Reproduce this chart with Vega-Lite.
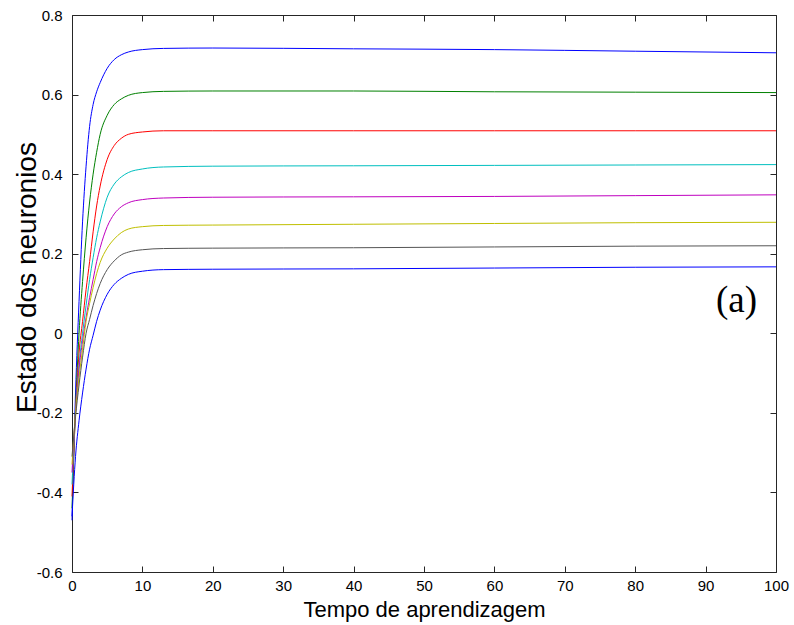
{
  "$schema": "https://vega.github.io/schema/vega-lite/v6.json",
  "width": 704,
  "height": 557,
  "autosize": {"type": "none"},
  "padding": {"left": 72, "top": 15, "right": 18, "bottom": 53},
  "background": "white",
  "config": {
    "view": {"stroke": null},
    "axis": {
      "labelFont": "Liberation Sans",
      "titleFont": "Liberation Sans",
      "labelColor": "#000000",
      "titleColor": "#000000",
      "labelFontSize": 15,
      "titleFontWeight": "normal",
      "labelFlush": false,
      "grid": false,
      "domainColor": "#262626",
      "tickColor": "#262626",
      "domainWidth": 1,
      "tickWidth": 1
    }
  },
  "datasets": {
    "curves": [
      {"n": "1", "t": 0, "y": -0.47}, {"n": "1", "t": 0.5, "y": -0.15}, {"n": "1", "t": 1, "y": 0.08}, {"n": "1", "t": 1.5, "y": 0.28}, {"n": "1", "t": 2, "y": 0.42}, {"n": "1", "t": 2.5, "y": 0.52}, {"n": "1", "t": 3, "y": 0.575}, {"n": "1", "t": 3.5, "y": 0.607}, {"n": "1", "t": 4, "y": 0.63}, {"n": "1", "t": 5, "y": 0.666}, {"n": "1", "t": 6, "y": 0.688}, {"n": "1", "t": 7, "y": 0.7}, {"n": "1", "t": 8, "y": 0.707}, {"n": "1", "t": 10, "y": 0.713}, {"n": "1", "t": 13, "y": 0.716}, {"n": "1", "t": 20, "y": 0.717}, {"n": "1", "t": 40, "y": 0.715}, {"n": "1", "t": 60, "y": 0.713}, {"n": "1", "t": 80, "y": 0.709}, {"n": "1", "t": 100, "y": 0.705},
      {"n": "2", "t": 0, "y": -0.44}, {"n": "2", "t": 0.5, "y": -0.19}, {"n": "2", "t": 1, "y": 0.0}, {"n": "2", "t": 1.5, "y": 0.13}, {"n": "2", "t": 2, "y": 0.24}, {"n": "2", "t": 2.5, "y": 0.33}, {"n": "2", "t": 3, "y": 0.4}, {"n": "2", "t": 3.5, "y": 0.455}, {"n": "2", "t": 4, "y": 0.5}, {"n": "2", "t": 5, "y": 0.548}, {"n": "2", "t": 6, "y": 0.575}, {"n": "2", "t": 7, "y": 0.589}, {"n": "2", "t": 8, "y": 0.598}, {"n": "2", "t": 10, "y": 0.605}, {"n": "2", "t": 13, "y": 0.608}, {"n": "2", "t": 20, "y": 0.609}, {"n": "2", "t": 40, "y": 0.609}, {"n": "2", "t": 60, "y": 0.607}, {"n": "2", "t": 80, "y": 0.606}, {"n": "2", "t": 100, "y": 0.605},
      {"n": "3", "t": 0, "y": -0.41}, {"n": "3", "t": 0.5, "y": -0.2}, {"n": "3", "t": 1, "y": -0.05}, {"n": "3", "t": 1.5, "y": 0.03}, {"n": "3", "t": 2, "y": 0.11}, {"n": "3", "t": 2.5, "y": 0.18}, {"n": "3", "t": 3, "y": 0.255}, {"n": "3", "t": 3.5, "y": 0.32}, {"n": "3", "t": 4, "y": 0.37}, {"n": "3", "t": 5, "y": 0.437}, {"n": "3", "t": 6, "y": 0.472}, {"n": "3", "t": 7, "y": 0.49}, {"n": "3", "t": 8, "y": 0.5}, {"n": "3", "t": 10, "y": 0.506}, {"n": "3", "t": 13, "y": 0.509}, {"n": "3", "t": 20, "y": 0.509}, {"n": "3", "t": 40, "y": 0.509}, {"n": "3", "t": 60, "y": 0.509}, {"n": "3", "t": 80, "y": 0.509}, {"n": "3", "t": 100, "y": 0.509},
      {"n": "4", "t": 0, "y": -0.38}, {"n": "4", "t": 0.5, "y": -0.2}, {"n": "4", "t": 1, "y": -0.08}, {"n": "4", "t": 1.5, "y": 0.0}, {"n": "4", "t": 2, "y": 0.07}, {"n": "4", "t": 2.5, "y": 0.135}, {"n": "4", "t": 3, "y": 0.19}, {"n": "4", "t": 3.5, "y": 0.24}, {"n": "4", "t": 4, "y": 0.28}, {"n": "4", "t": 5, "y": 0.342}, {"n": "4", "t": 6, "y": 0.375}, {"n": "4", "t": 7, "y": 0.393}, {"n": "4", "t": 8, "y": 0.404}, {"n": "4", "t": 10, "y": 0.413}, {"n": "4", "t": 13, "y": 0.418}, {"n": "4", "t": 20, "y": 0.42}, {"n": "4", "t": 40, "y": 0.421}, {"n": "4", "t": 60, "y": 0.422}, {"n": "4", "t": 80, "y": 0.423}, {"n": "4", "t": 100, "y": 0.424},
      {"n": "5", "t": 0, "y": -0.35}, {"n": "5", "t": 0.5, "y": -0.2}, {"n": "5", "t": 1, "y": -0.09}, {"n": "5", "t": 1.5, "y": -0.02}, {"n": "5", "t": 2, "y": 0.04}, {"n": "5", "t": 2.5, "y": 0.09}, {"n": "5", "t": 3, "y": 0.135}, {"n": "5", "t": 3.5, "y": 0.18}, {"n": "5", "t": 4, "y": 0.215}, {"n": "5", "t": 5, "y": 0.268}, {"n": "5", "t": 6, "y": 0.3}, {"n": "5", "t": 7, "y": 0.318}, {"n": "5", "t": 8, "y": 0.328}, {"n": "5", "t": 10, "y": 0.336}, {"n": "5", "t": 13, "y": 0.34}, {"n": "5", "t": 20, "y": 0.342}, {"n": "5", "t": 40, "y": 0.343}, {"n": "5", "t": 60, "y": 0.344}, {"n": "5", "t": 80, "y": 0.346}, {"n": "5", "t": 100, "y": 0.348},
      {"n": "6", "t": 0, "y": -0.33}, {"n": "6", "t": 0.5, "y": -0.2}, {"n": "6", "t": 1, "y": -0.11}, {"n": "6", "t": 1.5, "y": -0.04}, {"n": "6", "t": 2, "y": 0.03}, {"n": "6", "t": 2.5, "y": 0.075}, {"n": "6", "t": 3, "y": 0.115}, {"n": "6", "t": 3.5, "y": 0.15}, {"n": "6", "t": 4, "y": 0.178}, {"n": "6", "t": 5, "y": 0.214}, {"n": "6", "t": 6, "y": 0.237}, {"n": "6", "t": 7, "y": 0.253}, {"n": "6", "t": 8, "y": 0.262}, {"n": "6", "t": 10, "y": 0.268}, {"n": "6", "t": 13, "y": 0.271}, {"n": "6", "t": 20, "y": 0.272}, {"n": "6", "t": 40, "y": 0.274}, {"n": "6", "t": 60, "y": 0.276}, {"n": "6", "t": 80, "y": 0.278}, {"n": "6", "t": 100, "y": 0.279},
      {"n": "7", "t": 0, "y": -0.31}, {"n": "7", "t": 0.5, "y": -0.21}, {"n": "7", "t": 1, "y": -0.13}, {"n": "7", "t": 1.5, "y": -0.06}, {"n": "7", "t": 2, "y": 0.0}, {"n": "7", "t": 2.5, "y": 0.035}, {"n": "7", "t": 3, "y": 0.07}, {"n": "7", "t": 3.5, "y": 0.1}, {"n": "7", "t": 4, "y": 0.125}, {"n": "7", "t": 5, "y": 0.16}, {"n": "7", "t": 6, "y": 0.182}, {"n": "7", "t": 7, "y": 0.197}, {"n": "7", "t": 8, "y": 0.204}, {"n": "7", "t": 10, "y": 0.21}, {"n": "7", "t": 13, "y": 0.213}, {"n": "7", "t": 20, "y": 0.214}, {"n": "7", "t": 40, "y": 0.215}, {"n": "7", "t": 60, "y": 0.217}, {"n": "7", "t": 80, "y": 0.219}, {"n": "7", "t": 100, "y": 0.22},
      {"n": "8", "t": 0, "y": -0.46}, {"n": "8", "t": 0.5, "y": -0.31}, {"n": "8", "t": 1, "y": -0.22}, {"n": "8", "t": 1.5, "y": -0.15}, {"n": "8", "t": 2, "y": -0.09}, {"n": "8", "t": 2.5, "y": -0.04}, {"n": "8", "t": 3, "y": -0.005}, {"n": "8", "t": 3.5, "y": 0.03}, {"n": "8", "t": 4, "y": 0.058}, {"n": "8", "t": 5, "y": 0.098}, {"n": "8", "t": 6, "y": 0.123}, {"n": "8", "t": 7, "y": 0.138}, {"n": "8", "t": 8, "y": 0.148}, {"n": "8", "t": 10, "y": 0.156}, {"n": "8", "t": 13, "y": 0.16}, {"n": "8", "t": 20, "y": 0.161}, {"n": "8", "t": 40, "y": 0.162}, {"n": "8", "t": 60, "y": 0.164}, {"n": "8", "t": 80, "y": 0.166}, {"n": "8", "t": 100, "y": 0.167}
    ],
    "note": [{"label": "(a)", "t": 94.4, "y": 0.08}]
  },
  "layer": [
    {
      "data": {"name": "curves"},
      "mark": {"type": "line", "strokeWidth": 1, "interpolate": "monotone"},
      "encoding": {
        "x": {
          "field": "t", "type": "quantitative",
          "scale": {"domain": [0, 100], "nice": false},
          "axis": {"values": [0, 10, 20, 30, 40, 50, 60, 70, 80, 90, 100], "tickSize": -6, "labelPadding": 12, "title": "Tempo de aprendizagem", "titleFontSize": 22, "titlePadding": 6}
        },
        "y": {
          "field": "y", "type": "quantitative",
          "scale": {"domain": [-0.6, 0.8], "nice": false, "zero": false},
          "axis": {"values": [-0.6, -0.4, -0.2, 0, 0.2, 0.4, 0.6, 0.8], "tickSize": -6, "labelPadding": 16, "labelExpr": "replace(format(datum.value, '~g'), '\u2212', '-')", "title": "Estado dos neuronios", "titleFontSize": 28, "titlePadding": -5, "titleY": 262}
        },
        "color": {
          "field": "n", "type": "nominal",
          "scale": {"domain": ["1", "2", "3", "4", "5", "6", "7", "8"], "range": ["#0000ff", "#008000", "#ff0000", "#00bfbf", "#bf00bf", "#bfbf00", "#555555", "#0000ff"]},
          "legend": null
        }
      }
    },
    {
      "data": {"name": "note"},
      "mark": {"type": "text", "font": "Liberation Serif", "fontSize": 37, "align": "center", "baseline": "middle", "color": "#000000"},
      "encoding": {
        "x": {"field": "t", "type": "quantitative", "scale": {"domain": [0, 100], "nice": false}, "axis": {"orient": "top", "values": [0, 10, 20, 30, 40, 50, 60, 70, 80, 90, 100], "labels": false, "title": null, "tickSize": -6}},
        "y": {"field": "y", "type": "quantitative", "scale": {"domain": [-0.6, 0.8], "nice": false, "zero": false}, "axis": {"orient": "right", "values": [-0.6, -0.4, -0.2, 0, 0.2, 0.4, 0.6, 0.8], "labels": false, "title": null, "tickSize": -6}},
        "text": {"field": "label"}
      }
    }
  ],
  "resolve": {"axis": {"x": "independent", "y": "independent"}}
}
